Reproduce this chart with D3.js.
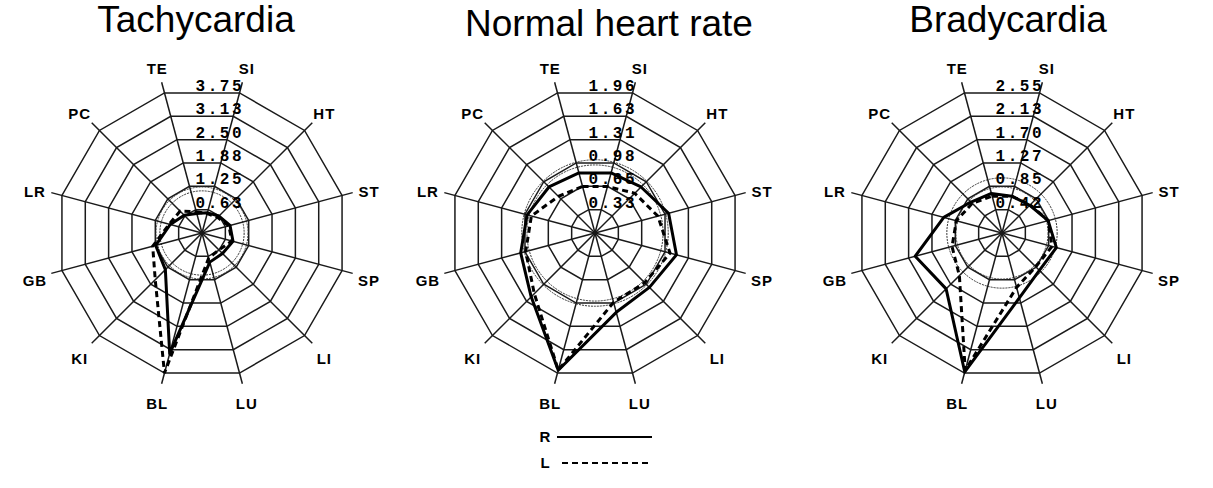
<!DOCTYPE html>
<html>
<head>
<meta charset="utf-8">
<script src="https://cdn.jsdelivr.net/npm/d3@7"></script>
<style>
  body { margin: 0; background: #fff; }
  svg { display: block; }
</style>
</head>
<body>
<svg id="chart"></svg>
<script>
// meridian axes, clockwise starting just left of 12 o'clock
var axes = ['TE','SI','HT','ST','SP','LI','LU','BL','KI','GB','LR','PC'];

var titles = ['Tachycardia', 'Normal heart rate', 'Bradycardia'];
var maxValues = [3.75, 1.96, 2.55];

var tickTachy  = ['0.63','1.25','1.88','2.50','3.13','3.75'];
var tickNormal = ['0.33','0.65','0.98','1.31','1.63','1.96'];
var tickBrady  = ['0.42','0.85','1.27','1.70','2.13','2.55'];

// right (R) and left (L) side values per axis
var tachyR  = [0.52, 0.54, 0.62, 0.75, 0.83, 0.75, 0.78, 3.23, 1.34, 1.24, 0.85, 0.65];
var tachyL  = [0.57, 0.52, 0.57, 0.72, 0.80, 0.62, 0.67, 3.75, 1.71, 1.32, 0.88, 0.80];
var normalR = [0.84, 0.84, 0.88, 1.03, 1.14, 1.04, 1.11, 1.92, 1.22, 1.04, 0.95, 0.88];
var normalL = [0.65, 0.65, 0.76, 0.88, 1.05, 0.95, 0.97, 1.92, 1.16, 0.97, 0.89, 0.70];
var bradyR  = [0.72, 0.67, 0.69, 0.84, 0.99, 0.93, 1.18, 2.53, 1.39, 1.58, 1.06, 0.77];
var bradyL  = [0.67, 0.67, 0.70, 0.84, 0.91, 0.84, 0.99, 2.50, 1.06, 0.91, 0.83, 0.74];

// reference band (two circles) per chart
var bandLow  = [1.09, 0.92, 0.81];
var bandHigh = [1.19, 0.99, 0.97];

var charts = [
  {title: titles[0], max: maxValues[0], ticks: tickTachy,  R: tachyR,  L: tachyL,  lo: bandLow[0], hi: bandHigh[0]},
  {title: titles[1], max: maxValues[1], ticks: tickNormal, R: normalR, L: normalL, lo: bandLow[1], hi: bandHigh[1]},
  {title: titles[2], max: maxValues[2], ticks: tickBrady,  R: bradyR,  L: bradyL,  lo: bandLow[2], hi: bandHigh[2]}
];

var width = 1213, height = 488;
var centersX = [202, 595, 1002],
    centerY = 233,
    radius = 145,
    titleShift = [-6, 14, 6],
    titleY = [32, 36, 32];

var svg = d3.select('#chart')
    .attr('width', width)
    .attr('height', height);

var angle = function(i) { return (-15 + 30 * i) * Math.PI / 180; };

charts.forEach(function(c, ci) {
  var cx = centersX[ci];
  var r = d3.scaleLinear().domain([0, c.max]).range([0, radius]);

  var g = svg.append('g')
      .attr('transform', 'translate(' + cx + ',' + centerY + ')');

  svg.append('text')
      .attr('x', cx + titleShift[ci])
      .attr('y', titleY[ci])
      .attr('text-anchor', 'middle')
      .style('font-family', '"Liberation Sans", Arial, sans-serif')
      .style('font-size', '37px')
      .attr('fill', '#000')
      .text(c.title);

  // dodecagon rings
  var ringLine = d3.lineRadial()
      .angle(function(d, i) { return angle(i); })
      .radius(function(d) { return r(d); })
      .curve(d3.curveLinearClosed);

  var levels = d3.range(1, 7).map(function(k) { return c.max * k / 6; });

  g.selectAll('.ring')
    .data(levels)
    .enter()
    .append('path')
    .attr('class', 'ring')
    .attr('d', function(v) { return ringLine(axes.map(function() { return v; })); })
    .attr('fill', 'none')
    .attr('stroke', '#1a1a1a')
    .attr('stroke-width', 1.5);

  // reference band circles
  g.selectAll('.band')
    .data([c.lo, c.hi])
    .enter()
    .append('circle')
    .attr('r', function(d) { return r(d); })
    .attr('fill', 'none')
    .attr('stroke', '#333')
    .attr('stroke-width', 1)
    .attr('stroke-dasharray', '2,1');

  // spokes
  g.selectAll('.spoke')
    .data(axes)
    .enter()
    .append('line')
    .attr('x1', 0).attr('y1', 0)
    .attr('x2', function(d, i) { return Math.sin(angle(i)) * (radius + 11); })
    .attr('y2', function(d, i) { return -Math.cos(angle(i)) * (radius + 11); })
    .attr('stroke', '#1a1a1a')
    .attr('stroke-width', 1.5);

  // axis names
  g.selectAll('.axisLabel')
    .data(axes)
    .enter()
    .append('text')
    .attr('x', function(d, i) { return Math.sin(angle(i)) * (radius + 28); })
    .attr('y', function(d, i) { return -Math.cos(angle(i)) * (radius + 28) + 3; })
    .attr('dy', '0.36em')
    .attr('text-anchor', 'middle')
    .style('font-family', '"Liberation Sans", Arial, sans-serif')
    .style('font-weight', 'bold')
    .style('font-size', '15px')
    .style('letter-spacing', '1px')
    .text(function(d) { return d; });

  // tick labels on the top edges
  var cos15 = Math.cos(15 * Math.PI / 180);
  g.selectAll('.tick')
    .data(c.ticks)
    .enter()
    .append('text')
    .attr('x', 42)
    .attr('y', function(d, i) { return -r(levels[i]) * cos15 - 2; })
    .attr('text-anchor', 'end')
    .style('font-family', '"Liberation Mono", "DejaVu Sans Mono", monospace')
    .style('font-weight', 'bold')
    .style('font-size', '16px')
    .style('letter-spacing', '2.5px')
    .text(function(d) { return d; });

  var dataLine = d3.lineRadial()
      .angle(function(d, i) { return angle(i); })
      .radius(function(d) { return r(d); })
      .curve(d3.curveLinearClosed);

  g.append('path')
    .attr('d', dataLine(c.L))
    .attr('fill', 'none')
    .attr('stroke', '#000')
    .attr('stroke-width', 3)
    .attr('stroke-dasharray', '6,4');

  g.append('path')
    .attr('d', dataLine(c.R))
    .attr('fill', 'none')
    .attr('stroke', '#000')
    .attr('stroke-width', 3)
    .attr('stroke-linejoin', 'round');
});

// legend
var legend = svg.append('g');
var legendItems = ['R', 'L'];
legend.selectAll('text')
  .data(legendItems)
  .enter()
  .append('text')
  .attr('x', 545)
  .attr('y', function(d, i) { return 437 + i * 26; })
  .attr('dy', '0.36em')
  .attr('text-anchor', 'middle')
  .style('font-family', '"Liberation Sans", Arial, sans-serif')
  .style('font-weight', 'bold')
  .style('font-size', '15px')
  .text(function(d) { return d; });

legend.selectAll('line')
  .data(legendItems)
  .enter()
  .append('line')
  .attr('x1', function(d, i) { return i ? 562 : 557; })
  .attr('x2', 652)
  .attr('y1', function(d, i) { return 437 + i * 26; })
  .attr('y2', function(d, i) { return 437 + i * 26; })
  .attr('stroke', '#000')
  .attr('stroke-width', 2)
  .attr('stroke-dasharray', function(d, i) { return i ? '6,4' : null; });
</script>
</body>
</html>
